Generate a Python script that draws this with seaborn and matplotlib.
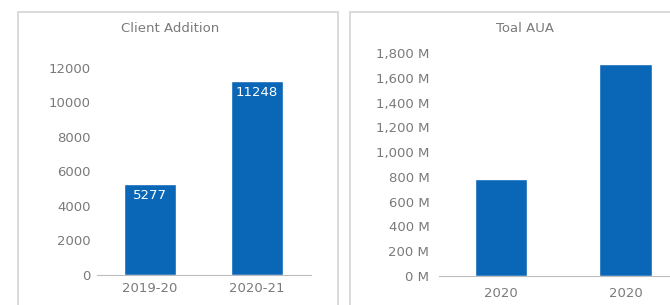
import matplotlib
matplotlib.use("Agg")
import matplotlib.pyplot as plt
import seaborn as sns
import pandas as pd
from matplotlib.patches import Rectangle

# data
client_periods = ["2019-20", "2020-21"]
client_values = [5277, 11248]
aua_periods = ["2020", "2020 "]
aua_values = [780, 1715]
client_ticks = [0, 2000, 4000, 6000, 8000, 10000, 12000]
aua_ticks = [0, 200, 400, 600, 800, 1000, 1200, 1400, 1600, 1800]

sns.set_theme(style="white")
plt.rcParams['font.family'] = ['DejaVu Sans']

W, H = 670, 305
fig = plt.figure(figsize=(W / 100, H / 100), dpi=100)
fig.patch.set_facecolor("white")

def px(x, y, w, h):
    return [x / W, (H - y - h) / H, w / W, h / H]

# panel borders
for (x0, y0, x1, y1) in [(18, 12, 338, 310), (350, 12, 672, 310)]:
    fig.patches.append(Rectangle((x0 / W, 1 - y1 / H), (x1 - x0) / W, (y1 - y0) / H,
                                 transform=fig.transFigure, fill=False,
                                 edgecolor="#d4d4d4", linewidth=1.2))

bar_color = "#0a66b7"
txt_color = "#7a7a7a"
fs = 9.5

# left chart
ax1 = fig.add_axes(px(96.5, 61, 214, 214))
df1 = pd.DataFrame({"period": client_periods, "value": client_values})
sns.barplot(data=df1, x="period", y="value", color=bar_color, saturation=1,
            width=0.49, ax=ax1)
ax1.set_xlim(-0.5, 1.5)
ax1.set_ylim(0, 12400)
ax1.set_yticks(client_ticks)
ax1.set_yticklabels([str(t) for t in client_ticks])
for i, v in enumerate(client_values):
    ax1.annotate(str(v), (i, v), xytext=(0, -3.5), textcoords="offset points",
                 ha="center", va="top", color="white", fontsize=fs)

# right chart
ax2 = fig.add_axes(px(439, 47, 230, 229))
df2 = pd.DataFrame({"period": aua_periods, "value": aua_values})
sns.barplot(data=df2, x="period", y="value", color=bar_color, saturation=1,
            width=0.42, ax=ax2)
ax2.set_xlim(-0.5, 1.35)
ax2.set_ylim(0, 1850)
ax2.set_yticks(aua_ticks)
ax2.set_yticklabels([f"{t:,} M" for t in aua_ticks])
ax2.set_xticks([0, 1])
ax2.set_xticklabels(["2020", "2020"])

for ax in (ax1, ax2):
    ax.set_xlabel("")
    ax.set_ylabel("")
    for s in ("top", "right", "left"):
        ax.spines[s].set_visible(False)
    ax.spines["bottom"].set_color("#bdbdbd")
    ax.spines["bottom"].set_linewidth(0.8)
    ax.tick_params(axis="both", length=0, labelsize=fs, labelcolor=txt_color)
    ax.tick_params(axis="x", pad=5)
    ax.set_facecolor("none")
    ax.grid(False)
ax1.tick_params(axis="y", pad=4)
ax2.tick_params(axis="y", pad=7)
ax2.tick_params(axis="x", pad=8)

fig.text(170 / W, 1 - 29 / H, "Client Addition", ha="center", va="center",
         fontsize=fs, color=txt_color)
fig.text(525 / W, 1 - 29 / H, "Toal AUA", ha="center", va="center",
         fontsize=fs, color=txt_color)

fig.savefig("out.png", dpi=100)
